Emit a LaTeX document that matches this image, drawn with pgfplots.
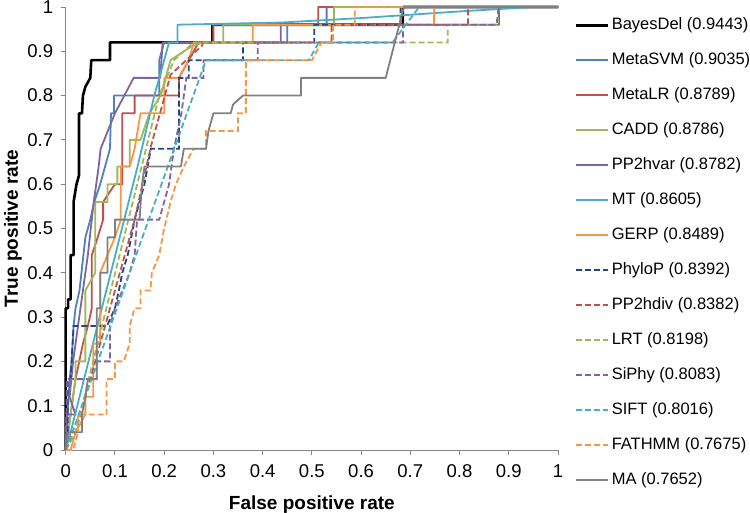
\documentclass[border=0pt]{standalone}
\usepackage{pgfplots}
\pgfplotsset{compat=1.18}
\usepackage{fontspec}
\setmainfont{Liberation Sans}
\definecolor{cBlack}{HTML}{000000}
\definecolor{cBlue}{HTML}{4F81BD}
\definecolor{cRed}{HTML}{C0504D}
\definecolor{cGreen}{HTML}{9BBB59}
\definecolor{cPurple}{HTML}{8064A2}
\definecolor{cAqua}{HTML}{4BACC6}
\definecolor{cOrange}{HTML}{F79646}
\definecolor{cNavy}{HTML}{1F497D}
\definecolor{cGray}{HTML}{808080}
\definecolor{axisgray}{HTML}{868686}
\pgfplotsset{
  legend image code/.code={\draw[#1] (0pt,0pt) -- (32pt,0pt);},
  sol/.style={line width=1.8pt, line join=round},
  dsh/.style={line width=1.8pt, dash pattern=on 6pt off 3pt},
}
\begin{document}
\begin{tikzpicture}
\begin{axis}[
  width=492.3pt, height=443pt, scale only axis,
  xmin=0, xmax=1, ymin=0, ymax=1,
  clip=false,
  axis lines=left,
  axis line style={-, draw=axisgray, line width=0.9pt},
  xtick={0,0.1,0.2,0.3,0.4,0.5,0.6,0.7,0.8,0.9,1},
  ytick={0,0.1,0.2,0.3,0.4,0.5,0.6,0.7,0.8,0.9,1},
  tick align=outside, major tick length=5pt,
  tick style={draw=axisgray, line width=0.9pt},
  /pgf/number format/assume math mode=true,
  ticklabel style={font=\fontsize{18.5}{20}\selectfont},
  xticklabel style={yshift=-6pt},
  yticklabel style={xshift=-4pt},
  xlabel={False positive rate},
  ylabel={True positive rate},
  label style={font=\fontsize{19}{22}\selectfont\bfseries},
  xlabel style={at={(axis description cs:0.5,-0.124)}, anchor=center},
  ylabel style={at={(axis description cs:-0.107,0.5)}, anchor=center},
  legend cell align=left,
  legend style={at={(axis description cs:1.0345,0.9774)}, anchor=north west,
    draw=none, fill=none, inner sep=0pt,
    font=\fontsize{16.5}{18}\selectfont,
    row sep=19pt, column sep=1pt,
    nodes={inner xsep=1pt, inner ysep=0pt, text height=12pt, text depth=4pt}},
]
\addplot[sol, cBlack, line width=2.6pt] coordinates {(0,0)(0,0.32)(0.005,0.32)(0.005,0.34)(0.01,0.34)(0.01,0.44)(0.016,0.44)(0.016,0.56)(0.022,0.6)(0.027,0.62)(0.027,0.76)(0.033,0.76)(0.035,0.8)(0.04,0.82)(0.05,0.84)(0.052,0.88)(0.09,0.88)(0.09,0.92)(0.298,0.92)(0.298,0.96)(0.685,0.96)(0.685,1)(1,1)};
\addlegendentry{BayesDel (0.9443)}
\addplot[sol, cBlue] coordinates {(0,0)(0.004,0.08)(0.008,0.16)(0.012,0.2)(0.016,0.28)(0.02,0.32)(0.028,0.36)(0.032,0.4)(0.04,0.48)(0.05,0.52)(0.058,0.56)(0.07,0.6)(0.08,0.64)(0.09,0.68)(0.092,0.76)(0.098,0.76)(0.098,0.8)(0.19,0.8)(0.19,0.88)(0.2,0.92)(0.45,0.92)(0.45,0.96)(0.53,0.96)(0.53,1)(1,1)};
\addlegendentry{MetaSVM (0.9035)}
\addplot[sol, cRed] coordinates {(0,0)(0.01,0.08)(0.02,0.16)(0.035,0.24)(0.045,0.28)(0.053,0.32)(0.053,0.44)(0.065,0.48)(0.076,0.52)(0.076,0.56)(0.1,0.6)(0.115,0.6)(0.115,0.76)(0.14,0.76)(0.14,0.8)(0.23,0.8)(0.23,0.84)(0.25,0.88)(0.27,0.92)(0.3,0.92)(0.3,0.96)(0.513,0.96)(0.513,1)(1,1)};
\addlegendentry{MetaLR (0.8789)}
\addplot[sol, cGreen] coordinates {(0,0)(0.01,0.08)(0.02,0.16)(0.02,0.2)(0.04,0.2)(0.04,0.36)(0.06,0.4)(0.06,0.56)(0.085,0.56)(0.085,0.6)(0.105,0.6)(0.105,0.64)(0.13,0.64)(0.13,0.7)(0.152,0.7)(0.17,0.76)(0.193,0.8)(0.213,0.88)(0.254,0.91)(0.28,0.92)(0.32,0.92)(0.32,0.96)(0.545,0.96)(0.545,1)(1,1)};
\addlegendentry{CADD (0.8786)}
\addplot[sol, cPurple] coordinates {(0,0)(0.002,0.08)(0.02,0.08)(0.008,0.12)(0.015,0.2)(0.025,0.28)(0.035,0.36)(0.045,0.44)(0.057,0.56)(0.067,0.64)(0.071,0.68)(0.1,0.76)(0.138,0.84)(0.192,0.84)(0.197,0.92)(0.437,0.92)(0.437,0.96)(0.88,0.96)(0.88,1)(1,1)};
\addlegendentry{PP2hvar (0.8782)}
\addplot[sol, cAqua] coordinates {(0,0)(0.01,0.04)(0.146,0.64)(0.18,0.8)(0.21,0.92)(0.227,0.92)(0.227,0.96)(0.44,0.965)(0.6,0.975)(0.8,0.99)(0.95,1)(1,1)};
\addlegendentry{MT (0.8605)}
\addplot[sol, cOrange] coordinates {(0,0)(0.01,0)(0.02,0.04)(0.04,0.08)(0.04,0.12)(0.056,0.12)(0.056,0.24)(0.07,0.24)(0.07,0.4)(0.085,0.44)(0.1,0.48)(0.112,0.52)(0.112,0.64)(0.13,0.64)(0.14,0.68)(0.152,0.76)(0.2,0.76)(0.2,0.84)(0.23,0.84)(0.25,0.88)(0.26,0.92)(0.38,0.92)(0.38,0.96)(0.748,0.96)(0.748,1)(1,1)};
\addlegendentry{GERP (0.8489)}
\addplot[dsh, cNavy] coordinates {(0,0)(0.004,0.04)(0.004,0.16)(0.01,0.16)(0.012,0.2)(0.016,0.28)(0.084,0.28)(0.1,0.32)(0.108,0.36)(0.115,0.4)(0.126,0.44)(0.133,0.48)(0.14,0.52)(0.15,0.56)(0.16,0.6)(0.173,0.68)(0.23,0.68)(0.23,0.84)(0.25,0.84)(0.25,0.88)(0.36,0.88)(0.36,0.92)(0.505,0.92)(0.505,0.96)(0.68,0.96)(0.68,1)(1,1)};
\addlegendentry{PhyloP (0.8392)}
\addplot[dsh, cRed] coordinates {(0,0)(0.02,0.04)(0.06,0.2)(0.1,0.36)(0.14,0.52)(0.173,0.685)(0.213,0.847)(0.278,0.914)(0.278,0.92)(0.54,0.92)(0.54,0.96)(0.817,0.96)(0.817,1)(1,1)};
\addlegendentry{PP2hdiv (0.8382)}
\addplot[dsh, cGreen] coordinates {(0,0)(0.02,0.04)(0.19,0.8)(0.22,0.88)(0.26,0.92)(0.776,0.92)(0.776,0.96)(0.878,0.96)(0.878,1)(1,1)};
\addlegendentry{LRT (0.8198)}
\addplot[dsh, cPurple] coordinates {(0,0)(0.002,0.12)(0.002,0.16)(0.063,0.16)(0.063,0.2)(0.09,0.2)(0.09,0.28)(0.1,0.32)(0.115,0.36)(0.13,0.4)(0.14,0.44)(0.145,0.52)(0.19,0.52)(0.2,0.56)(0.21,0.6)(0.22,0.68)(0.235,0.76)(0.245,0.84)(0.28,0.84)(0.28,0.88)(0.39,0.88)(0.39,0.92)(0.685,0.92)(0.685,0.96)(0.875,0.96)(0.88,1)(1,1)};
\addlegendentry{SiPhy (0.8083)}
\addplot[dsh, cAqua] coordinates {(0,0)(0.004,0.01)(0.285,0.88)(0.494,0.88)(0.514,0.92)(0.664,0.92)(0.718,1)(1,1)};
\addlegendentry{SIFT (0.8016)}
\addplot[dsh, cOrange] coordinates {(0,0)(0.015,0)(0.025,0.04)(0.025,0.08)(0.083,0.08)(0.083,0.16)(0.1,0.16)(0.1,0.2)(0.118,0.2)(0.13,0.24)(0.13,0.28)(0.14,0.32)(0.152,0.32)(0.152,0.36)(0.172,0.36)(0.175,0.4)(0.19,0.44)(0.2,0.5)(0.213,0.56)(0.224,0.6)(0.24,0.64)(0.26,0.68)(0.285,0.68)(0.285,0.72)(0.35,0.72)(0.35,0.76)(0.366,0.76)(0.366,0.88)(0.5,0.88)(0.52,0.92)(0.543,0.92)(0.543,0.96)(0.587,0.96)(0.587,1)(1,1)};
\addlegendentry{FATHMM (0.7675)}
\addplot[sol, cGray] coordinates {(0,0)(0.005,0.04)(0.033,0.04)(0.033,0.08)(0.04,0.12)(0.045,0.16)(0.063,0.16)(0.063,0.32)(0.07,0.32)(0.07,0.4)(0.085,0.4)(0.085,0.48)(0.1,0.48)(0.1,0.52)(0.15,0.52)(0.155,0.6)(0.16,0.64)(0.234,0.64)(0.24,0.68)(0.285,0.68)(0.29,0.72)(0.3,0.76)(0.335,0.76)(0.34,0.78)(0.36,0.8)(0.478,0.8)(0.478,0.84)(0.65,0.84)(0.687,1)(1,1)};
\addlegendentry{MA (0.7652)}
\coordinate (O) at (rel axis cs:0,0);
\end{axis}
\pgfresetboundingbox
\path (O) ++(-65.7pt,-63pt) rectangle ++(750pt,513pt);
\end{tikzpicture}
\end{document}
